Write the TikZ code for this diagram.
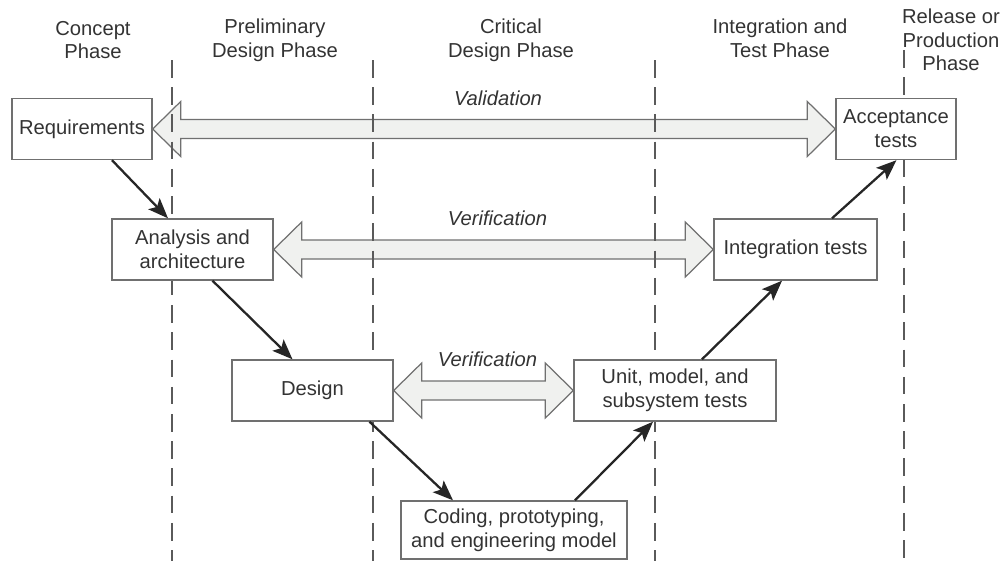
\documentclass[tikz,border=0pt]{standalone}
\usepackage{fontspec}
\setmainfont{Liberation Sans}
\usetikzlibrary{arrows.meta,calc,backgrounds}
\definecolor{txtgray}{HTML}{333333}
\definecolor{edgegray}{HTML}{707070}
\definecolor{palegray}{HTML}{F0F1EF}
\definecolor{dashgray}{HTML}{5A5A5A}

\begin{document}
\begin{tikzpicture}[
  x=0.02cm, y=-0.02cm,
  every node/.style={font=\fontsize{11.5}{13.5}\selectfont, text=txtgray},
  box/.style={rectangle, draw=edgegray, line width=0.8pt, fill=white,
    align=center, minimum height=1.22cm, inner sep=2pt},
  phase/.style={align=center},
  flow/.style={-{Stealth[length=11.5pt,width=9pt,inset=2.5pt]},
    line width=1.3pt, black!85},
  hollow/.style={draw=edgegray, fill=palegray, line width=0.7pt},
  divider/.style={dash pattern=on 10pt off 5.5pt, dashgray, line width=0.6pt}
]
  \useasboundingbox (0,0) rectangle (1004,561);

  % phase headings
  \node[phase] (concept) at (93,40) {Concept\\Phase};
  \node[phase] (prelim) at (275,40) {Preliminary\\Design Phase};
  \node[phase] (critical) at (511,40) {Critical\\Design Phase};
  \node[phase] (inttest) at (780,38) {Integration and\\Test Phase};
  \node[phase] (release) at (951,40) {Release or\\Production\\Phase};

  % left leg of the V
  \node[box, minimum width=2.8cm] (req) at (82,129) {Requirements};
  \node[box, minimum width=3.22cm] (ana) at (192.5,249.5) {Analysis and\\architecture};
  \node[box, minimum width=3.22cm] (des) at (312.5,390.5) {Design};
  \node[box, minimum width=4.52cm, minimum height=1.16cm] (code) at (514,530)
    {Coding, prototyping,\\and engineering model};

  % right leg of the V
  \node[box, minimum width=4.04cm] (unit) at (675,390.5) {Unit, model, and\\subsystem tests};
  \node[box, minimum width=3.26cm] (integ) at (795.5,249.5) {Integration tests};
  \node[box, minimum width=2.4cm] (acc) at (896,129) {Acceptance\\tests};

  \begin{scope}[on background layer]
    \foreach \a/\b/\t in {req/acc/Validation, ana/integ/Verification, des/unit/Verification} {
      \draw[hollow] (\a.east) -- ++(28,-27.5) -- ++(0,18)
        -- ($(\b.west)+(-28,-9.5)$) -- ++(0,-18) -- (\b.west)
        -- ++(-28,27.5) -- ++(0,-18)
        -- ($(\a.east)+(28,9.5)$) -- ++(0,18) -- cycle;
      \node[font=\fontsize{11.5}{13.5}\selectfont\itshape] (lbl\a)
        at ($(\a.east)!0.5!(\b.west)+(4,-31)$) {\t};
    }
    \foreach \x/\ys in {172/60, 373/60, 655/60, 904/50}
      \draw[divider] (\x,\ys) -- (\x,561);
  \end{scope}

  \draw[flow] ($(req.south)+(30,0)$) -- ($(ana.north)+(-24.5,0)$);
  \draw[flow] ($(ana.south)+(20,0)$) -- ($(des.north)+(-20,0)$);
  \draw[flow] ($(des.south)+(57,0)$) -- ($(code.north)+(-61,0)$);
  \draw[flow] ($(code.north)+(61,0)$) -- ($(unit.south)+(-22,0)$);
  \draw[flow] ($(unit.north)+(27,0)$) -- ($(integ.south)+(-13.5,0)$);
  \draw[flow] ($(integ.north)+(36.5,0)$) -- ($(acc.south)+(0.5,0)$);
\end{tikzpicture}
\end{document}
